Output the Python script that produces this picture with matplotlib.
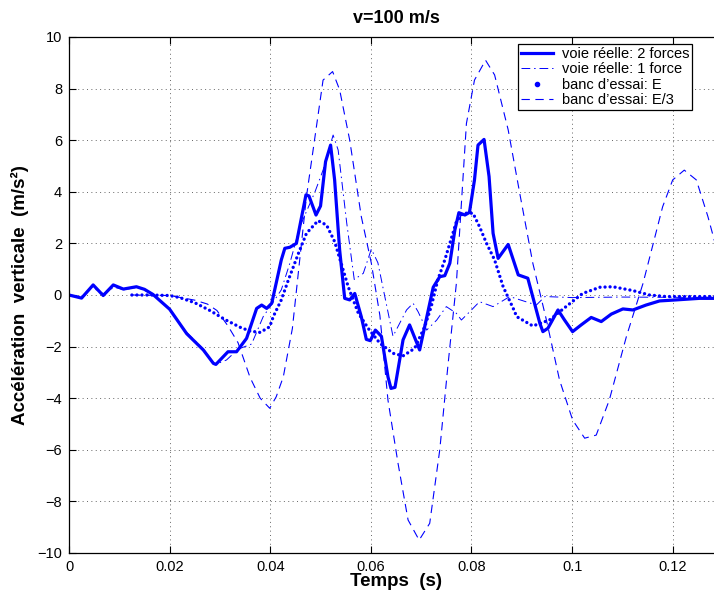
import matplotlib
matplotlib.use("Agg")
import matplotlib.pyplot as plt
from matplotlib.lines import Line2D

plt.rcParams["font.family"] = ["Liberation Sans", "DejaVu Sans"]

# -------------------------------
# Data
# -------------------------------
# voie réelle: 2 forces
t_2f = [0, 0.0025, 0.0048, 0.0068, 0.0088, 0.0108, 0.0134, 0.0150, 0.0167, 0.020,
        0.0234, 0.0267, 0.0287, 0.0292, 0.0316, 0.0333, 0.0353, 0.0373, 0.0383, 0.0393,
        0.0403, 0.0422, 0.0429, 0.0439, 0.0452, 0.0471, 0.0477, 0.0491, 0.0500, 0.0510,
        0.0520, 0.0528, 0.0538, 0.0548, 0.0558, 0.0568, 0.0581, 0.0591, 0.0599, 0.0609,
        0.0621, 0.0634, 0.0640, 0.0648, 0.0664, 0.0677, 0.0697, 0.0724, 0.0737, 0.0747,
        0.0757, 0.0767, 0.0775, 0.0787, 0.0796, 0.0806, 0.0813, 0.0825, 0.0835, 0.0843,
        0.0853, 0.0873, 0.0893, 0.0912, 0.0936, 0.0942, 0.0952, 0.0972, 0.0985, 0.1001,
        0.1018, 0.1038, 0.1058, 0.1078, 0.1101, 0.1121, 0.1147, 0.1174, 0.1207, 0.1253,
        0.1300]
y_2f = [0, -0.12, 0.39, -0.02, 0.39, 0.23, 0.32, 0.22, 0.02, -0.55,
        -1.5, -2.13, -2.65, -2.69, -2.2, -2.2, -1.68, -0.52, -0.39, -0.52,
        -0.32, 1.36, 1.81, 1.85, 2.0, 3.88, 3.84, 3.1, 3.45, 5.17,
        5.81, 4.46, 1.74, -0.13, -0.19, 0.06, -0.84, -1.72, -1.77, -1.36,
        -1.6, -3.17, -3.62, -3.58, -1.74, -1.16, -2.13, 0.3, 0.71, 0.75,
        1.23, 2.52, 3.19, 3.1, 3.2, 4.46, 5.81, 6.03, 4.59, 2.39,
        1.42, 1.96, 0.78, 0.65, -1.1, -1.42, -1.29, -0.58, -0.97, -1.42,
        -1.16, -0.87, -1.03, -0.74, -0.54, -0.58, -0.39, -0.23, -0.19, -0.13,
        -0.13]

# voie réelle: 1 force
t_1f = [0, 0.0025, 0.0045, 0.0068, 0.0090, 0.0110, 0.0135, 0.0167, 0.0200, 0.0234,
        0.0267, 0.0290, 0.0313, 0.0336, 0.0363, 0.0386, 0.0405, 0.0422, 0.0439, 0.0459,
        0.0489, 0.0505, 0.0525, 0.0535, 0.0552, 0.0567, 0.0585, 0.0601, 0.0614, 0.0625,
        0.0644, 0.0671, 0.0684, 0.0694, 0.0711, 0.0731, 0.0750, 0.0770, 0.0780, 0.0800,
        0.0816, 0.0843, 0.0876, 0.0929, 0.0946, 0.1000, 0.1100, 0.1300]
y_1f = [0, -0.05, 0.3, 0.05, 0.3, 0.2, 0.3, 0.05, -0.55, -1.45,
        -2.1, -2.7, -2.52, -2.1, -1.9, -0.84, -0.3, 0.2, 1.23, 2.65,
        4.0, 4.84, 6.2, 5.62, 2.8, 0.6, 0.84, 1.78, 1.25, 0.2,
        -1.6, -0.58, -0.32, -0.65, -1.36, -0.97, -0.45, -0.71, -0.97, -0.58,
        -0.26, -0.45, -0.06, -0.39, -0.06, -0.1, -0.08, -0.1]

# banc d'essai: E
t_E = [0.0125, 0.016, 0.020, 0.022, 0.025, 0.028, 0.031, 0.034, 0.036, 0.038,
       0.0399, 0.0406, 0.0422, 0.0436, 0.0456, 0.0472, 0.0495, 0.0512, 0.0528, 0.0545,
       0.0555, 0.0575, 0.0595, 0.0618, 0.0644, 0.0664, 0.0687, 0.0707, 0.0720, 0.0733,
       0.0747, 0.0757, 0.0770, 0.0783, 0.0803, 0.0816, 0.0830, 0.0846, 0.0863, 0.0883,
       0.0890, 0.0922, 0.0955, 0.0988, 0.1021, 0.1055, 0.1081, 0.1121, 0.1154, 0.1187,
       0.1300]
y_E = [0, 0, -0.02, -0.1, -0.3, -0.6, -0.95, -1.25, -1.4, -1.45,
       -1.23, -0.84, -0.19, 0.58, 1.61, 2.39, 2.88, 2.71, 2.07, 0.97,
       0.32, -0.7, -1.3, -1.87, -2.26, -2.36, -2.07, -1.23, -0.45, 0.58,
       1.36, 2.0, 2.84, 3.17, 3.17, 2.65, 2.0, 1.36, 0.32, -0.52,
       -0.84, -1.2, -0.97, -0.45, 0.06, 0.3, 0.32, 0.17, 0.0, -0.06,
       -0.06]

# banc d'essai: E/3
t_E3 = [0.0125, 0.020, 0.025, 0.0275, 0.0294, 0.0316, 0.0336, 0.0360, 0.0380, 0.0399,
        0.0412, 0.0426, 0.0444, 0.0472, 0.0505, 0.0524, 0.0538, 0.0558, 0.0581, 0.0601,
        0.0618, 0.0634, 0.0654, 0.0674, 0.0696, 0.0717, 0.0737, 0.0753, 0.0770, 0.0790,
        0.0806, 0.0828, 0.0846, 0.0873, 0.0896, 0.0922, 0.0949, 0.0975, 0.1001, 0.1025,
        0.1048, 0.1074, 0.1108, 0.1141, 0.1180, 0.1200, 0.1223, 0.1247, 0.1270, 0.1290]
y_E3 = [0, -0.02, -0.2, -0.35, -0.6, -1.2, -1.85, -3.2, -4.0, -4.39,
        -3.94, -3.17, -1.3, 3.81, 8.33, 8.66, 7.95, 6.0, 3.04, 1.23,
        -0.8, -4.07, -6.52, -8.72, -9.5, -8.85, -6.0, -2.78, 0.45, 6.65,
        8.33, 9.1, 8.53, 6.4, 3.94, 1.23, -0.97, -3.29, -4.84, -5.55,
        -5.43, -4.07, -1.61, 0.45, 3.42, 4.46, 4.84, 4.46, 3.04, 1.6]

x_ticks = [0, 0.02, 0.04, 0.06, 0.08, 0.1, 0.12]
x_tick_labels = ["0", "0.02", "0.04", "0.06", "0.08", "0.1", "0.12"]
y_ticks = [-10, -8, -6, -4, -2, 0, 2, 4, 6, 8, 10]

labels = ["voie réelle: 2 forces", "voie réelle: 1 force",
          "banc d\u2019essai: E", "banc d\u2019essai: E/3"]

# -------------------------------
# Figure
# -------------------------------
fig = plt.figure(figsize=(7.14, 5.96), dpi=100)
ax = fig.add_axes([69 / 714, 1 - 553 / 596, 654 / 714, 516 / 596])

blue = "#0000ff"
ax.plot(t_1f, y_1f, color=blue, linewidth=0.7, dashes=(9, 4, 1.5, 4))
ax.plot(t_E3, y_E3, color=blue, linewidth=0.8, dashes=(7.5, 5))
ax.plot(t_E, y_E, color=blue, linewidth=2.4, dashes=(0.01, 1.5),
        dash_capstyle="round")
ax.plot(t_2f, y_2f, color=blue, linewidth=2.3)

ax.set_xlim(0, 0.13)
ax.set_ylim(-10, 10)
ax.set_xticks(x_ticks)
ax.set_xticklabels(x_tick_labels)
ax.set_yticks(y_ticks)
ax.tick_params(direction="in", length=5, width=0.8, top=True, right=True,
               labelsize=10.5, pad=5)
ax.grid(True, color="0.4", linestyle=(0, (1, 3.5)), linewidth=0.7)
for sp in ax.spines.values():
    sp.set_linewidth(0.9)

ax.set_title("v=100 m/s", fontsize=13, fontweight="bold", pad=10)
ax.set_xlabel("Temps  (s)", fontsize=13.5, fontweight="bold", labelpad=-1)
ax.set_ylabel("Accélération  verticale  (m/s²)", fontsize=13.5,
              fontweight="bold", labelpad=6)

# legend with proxies so the dotted entry shows a single dot
handles = [
    Line2D([], [], color=blue, linewidth=2.3),
    Line2D([], [], color=blue, linewidth=0.7, dashes=(9, 4, 1.5, 4)),
    Line2D([], [], color=blue, marker=".", markersize=6, linestyle="none"),
    Line2D([], [], color=blue, linewidth=0.8, dashes=(7.5, 5)),
]
leg = ax.legend(handles, labels, loc="upper left",
                bbox_to_anchor=(518 / 714, 1 - 44 / 596),
                bbox_transform=fig.transFigure, fontsize=10.5,
                fancybox=False, framealpha=1, edgecolor="black",
                borderpad=0.2, labelspacing=0.1, handlelength=2.2,
                handletextpad=0.6, borderaxespad=0)
leg.get_frame().set_linewidth(0.9)

fig.savefig("out.png", dpi=100)
